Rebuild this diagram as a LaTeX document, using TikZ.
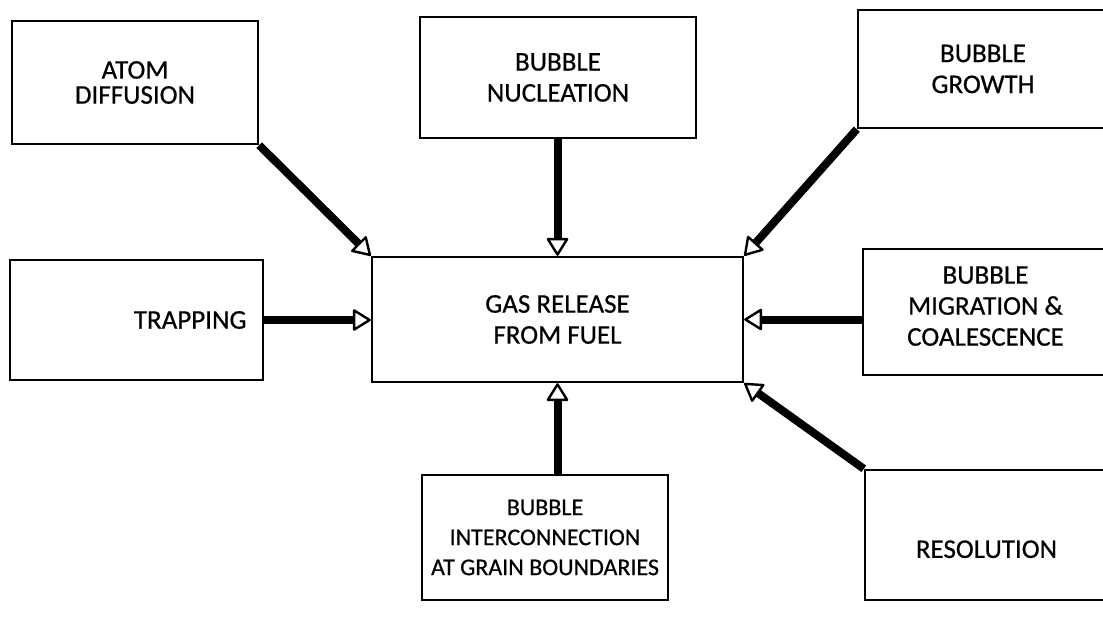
\documentclass[tikz,border=0pt]{standalone}
\usepackage{fontspec}
\setmainfont{Carlito}
\newfontfamily\lbl{Carlito}[FakeBold=0.6]
\usetikzlibrary{arrows.meta}
\begin{document}
\begin{tikzpicture}[x=1pt,y=-1pt,
  box/.style={draw=black, line width=2.4pt, align=center, inner sep=0pt,
    font=\lbl\fontsize{27}{31}\selectfont},
  arr/.style={line width=8pt, black,
    -{Triangle[length=19pt,width=23pt,fill=white,line width=2.4pt,round]}}]
\clip (0,0) rectangle (1103,629);
\fill[white] (0,0) rectangle (1103,629);
\node[box, minimum width=246pt, minimum height=123pt,
  font=\lbl\fontsize{27}{25}\selectfont] (atom) at (135,82.5) {ATOM\\DIFFUSION};
\node[box, minimum width=276pt, minimum height=121pt] (nuc) at (558,77.5) {BUBBLE\\NUCLEATION};
\node[box, minimum width=250pt, minimum height=118pt] (grow) at (983,69) {BUBBLE\\GROWTH};
\node[box, minimum width=253pt, minimum height=120pt, text width=220pt, align=right] (trap) at (136.5,320) {TRAPPING};
\node[box, minimum width=371pt, minimum height=125pt] (gas) at (557.5,319.5) {GAS RELEASE\\FROM FUEL};
\node[box, minimum width=245pt, minimum height=126pt, text depth=12pt] (mig) at (985.5,312) {BUBBLE\\MIGRATION \&\\COALESCENCE};
\node[box, minimum width=246pt, minimum height=125pt,
  font=\lbl\fontsize{24}{30}\selectfont] (inter) at (545,537.5) {BUBBLE\\INTERCONNECTION\\AT GRAIN BOUNDARIES};
\node[box, minimum width=243pt, minimum height=130pt, text height=46pt] (res) at (986.5,535) {RESOLUTION};
\draw[arr] (atom.south east) -- (gas.north west);
\draw[arr] (nuc.south -| gas.north) -- (gas.north);
\draw[arr] (grow.south west) -- (gas.north east);
\draw[arr] (trap.east) -- (trap.east -| gas.west);
\draw[arr] (mig.west |- gas.east) -- (gas.east);
\draw[arr] (inter.north -| gas.south) -- (gas.south);
\draw[arr] (res.north west) -- (gas.south east);
\end{tikzpicture}
\end{document}
